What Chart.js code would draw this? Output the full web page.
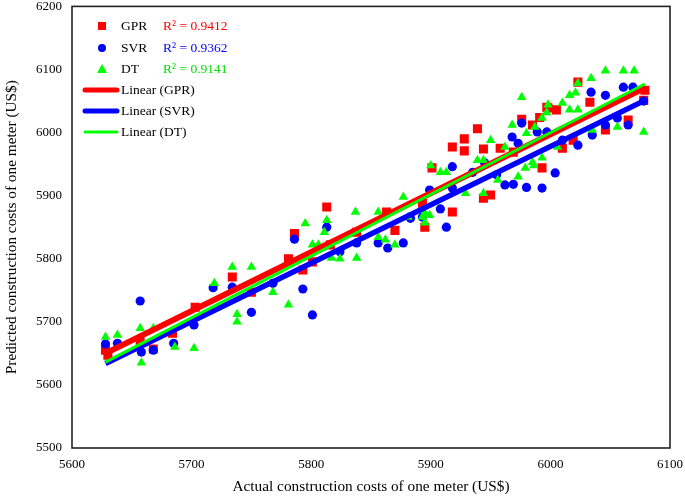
<!DOCTYPE html>
<html lang="en">
<head>
  <meta charset="UTF-8">
  <title>Actual vs predicted construction costs</title>
  <script src="https://cdn.jsdelivr.net/npm/chart.js"></script>
  <style>
    body {
      margin: 0;
      background: #fff;
    }
    .wrap {
      width: 685px;
      height: 496px;
      position: relative;
    }
  </style>
</head>
<body>
  <div class="wrap">
    <canvas id="grafico"></canvas>
  </div>

  <script>
    // GPR (red squares)
    const gprX = [5628, 5630, 5657, 5668, 5684, 5703, 5734, 5750, 5781, 5786, 5793, 5801, 5813, 5816, 5838, 5863, 5870,
      5893, 5895, 5901, 5918, 5918, 5928, 5928, 5939, 5944, 5944, 5950, 5958, 5969, 5976, 5985, 5991, 5993, 5997, 5998,
      6005, 6010, 6019, 6023, 6033, 6046, 6065, 6078, 6079];
    const gprY = [5655, 5647, 5668, 5657, 5682, 5723, 5771, 5747, 5800, 5840, 5782, 5795, 5882, 5822, 5842, 5874, 5845,
      5888, 5850, 5944, 5977, 5874, 5990, 5971, 6006, 5974, 5896, 5901, 5975, 5969, 6021, 6012, 6024, 5944, 6040, 6039,
      6036, 5975, 5988, 6080, 6048, 6004, 6020, 6051, 6067];

    // SVR (blue circles)
    const svrX = [5628, 5638, 5657, 5658, 5668, 5685, 5702, 5718, 5734, 5750, 5768, 5786, 5793, 5801, 5813, 5824, 5838,
      5856, 5864, 5877, 5883, 5893, 5899, 5908, 5913, 5918, 5918, 5935, 5945, 5955, 5962, 5969, 5973, 5976, 5980, 5968,
      5989, 5993, 5997, 6004, 6010, 6023, 6034, 6035, 6046, 6046, 6056, 6061, 6065, 6069, 6078];
    const svrY = [5665, 5666, 5733, 5652, 5655, 5666, 5695, 5754, 5755, 5715, 5761, 5831, 5752, 5711, 5850, 5811, 5825,
      5825, 5817, 5825, 5864, 5866, 5909, 5879, 5850, 5946, 5912, 5937, 5952, 5933, 5917, 5918, 5983, 6015, 5913, 5993,
      6001, 5912, 6001, 5936, 5988, 5980, 6064, 5996, 6059, 6012, 6023, 6072, 6012, 6072, 6050];

    // DT (green triangles)
    const dtX = [5628, 5638, 5657, 5658, 5668, 5686, 5702, 5719, 5734, 5738, 5738, 5750, 5768, 5781, 5795, 5801, 5806,
      5811, 5813, 5817, 5824, 5837, 5838, 5856, 5856, 5862, 5870, 5877, 5881, 5893, 5895, 5895, 5899, 5900, 5908, 5913,
      5929, 5939, 5944, 5944, 5950, 5956, 5962, 5968, 5973, 5976, 5979, 5980, 5985, 5986, 5987, 5993, 5993, 5997, 5998,
      6006, 6010, 6016, 6016, 6021, 6023, 6023, 6034, 6035, 6046, 6056, 6061, 6070, 6078];
    const dtY = [5676, 5679, 5690, 5635, 5690, 5660, 5658, 5761, 5787, 5712, 5700, 5787, 5747, 5727, 5856, 5822, 5822,
      5842, 5861, 5801, 5800, 5874, 5801, 5874, 5834, 5830, 5822, 5898, 5866, 5866, 5872, 5857, 5869, 5948, 5937, 5937,
      5904, 5956, 5956, 5904, 5988, 5925, 5977, 6012, 5930, 6056, 5944, 5999, 5953, 5948, 6009, 6023, 5960, 6032, 6044,
      5977, 6047, 6059, 6036, 6063, 6078, 6036, 6086, 6004, 6098, 6009, 6098, 6098, 6001];

    // linear trend lines, end points
    const lineX = [5628, 6079];
    const gprLineY = [5650, 6071];
    const svrLineY = [5634, 6051];
    const dtLineY = [5636, 6077];

    const xTicks = [5600, 5700, 5800, 5900, 6000, 6100];
    const yTicks = [5500, 5600, 5700, 5800, 5900, 6000, 6100, 6200];

    const legendItems = [
      { kind: 'rect', color: '#ff0000', label: 'GPR', r2: 'R² = 0.9412' },
      { kind: 'circle', color: '#0000ff', label: 'SVR', r2: 'R² = 0.9362' },
      { kind: 'triangle', color: '#00ff00', label: 'DT', r2: 'R² = 0.9141' },
      { kind: 'line', color: '#ff0000', width: 5, label: 'Linear (GPR)' },
      { kind: 'line', color: '#0000ff', width: 5, label: 'Linear (SVR)' },
      { kind: 'line', color: '#00ff00', width: 3, label: 'Linear (DT)' }
    ];

    function puntos(xs, ys) {
      return xs.map((x, i) => ({ x: x, y: ys[i] }));
    }

    const serif = 'Liberation Serif';

    // frame around the plot + legend in upper left corner
    const marcoYLeyenda = {
      id: 'marcoYLeyenda',
      afterDraw(chart) {
        const ctx = chart.ctx;
        const a = chart.chartArea;
        ctx.save();
        ctx.strokeStyle = '#222';
        ctx.lineWidth = 1.6;
        ctx.strokeRect(a.left, a.top, a.right - a.left, a.bottom - a.top);

        ctx.font = '13.5px "' + serif + '"';
        ctx.textBaseline = 'middle';
        const rowsY = [26, 48, 69, 90, 111, 132];
        legendItems.forEach((it, i) => {
          const y = rowsY[i];
          ctx.fillStyle = it.color;
          ctx.strokeStyle = it.color;
          if (it.kind === 'rect') {
            ctx.fillRect(98, y - 4, 8, 8);
          } else if (it.kind === 'circle') {
            ctx.beginPath();
            ctx.arc(102, y, 4, 0, Math.PI * 2);
            ctx.fill();
          } else if (it.kind === 'triangle') {
            ctx.beginPath();
            ctx.moveTo(102, y - 5);
            ctx.lineTo(107, y + 4);
            ctx.lineTo(97, y + 4);
            ctx.closePath();
            ctx.fill();
          } else {
            ctx.lineWidth = it.width;
            ctx.lineCap = 'round';
            ctx.beginPath();
            ctx.moveTo(85, y);
            ctx.lineTo(117, y);
            ctx.stroke();
          }
          ctx.fillStyle = '#000';
          ctx.textAlign = 'left';
          ctx.fillText(it.label, 121, y);
          if (it.r2) {
            ctx.fillStyle = it.color === '#00ff00' ? '#00dd00' : it.color;
            ctx.fillText(it.r2, 163, y);
          }
        });
        ctx.restore();
      }
    };

    new Chart(document.getElementById('grafico'), {
      type: 'scatter',
      data: {
        datasets: [
          { type: 'line', label: 'Linear (DT)', data: puntos(lineX, dtLineY), borderColor: '#00ff00', borderWidth: 3, pointRadius: 0 },
          { type: 'line', label: 'Linear (SVR)', data: puntos(lineX, svrLineY), borderColor: '#0000ff', borderWidth: 5.5, pointRadius: 0 },
          { type: 'line', label: 'Linear (GPR)', data: puntos(lineX, gprLineY), borderColor: '#ff0000', borderWidth: 6, pointRadius: 0 },
          { label: 'DT', data: puntos(dtX, dtY), pointStyle: 'triangle', pointRadius: 5.5, backgroundColor: '#00ff00', borderColor: '#00ff00', borderWidth: 0 },
          { label: 'SVR', data: puntos(svrX, svrY), pointStyle: 'circle', pointRadius: 4.6, backgroundColor: '#0000ff', borderColor: '#0000ff', borderWidth: 0 },
          { label: 'GPR', data: puntos(gprX, gprY), pointStyle: 'rect', pointRadius: 6.4, backgroundColor: '#ff0000', borderColor: '#ff0000', borderWidth: 0 }
        ]
      },
      options: {
        responsive: true,
        maintainAspectRatio: false,
        animation: false,
        layout: { padding: { left: 0, top: 6, right: 15, bottom: 0 } },
        plugins: {
          legend: { display: false },
          tooltip: { enabled: false }
        },
        scales: {
          x: {
            min: 5600,
            max: 6100,
            afterBuildTicks: s => { s.ticks = xTicks.map(v => ({ value: v })); },
            afterFit: s => { s.height = 48; s.paddingLeft = 0; s.paddingRight = 0; },
            grid: { display: false, drawTicks: false },
            border: { display: false },
            ticks: { padding: 9, color: '#000', font: { family: serif, size: 13 }, maxRotation: 0, callback: v => String(v) },
            title: {
              display: true,
              text: 'Actual construction costs of one meter (US$)',
              color: '#000',
              font: { family: serif, size: 15.3 },
              padding: { top: 0, bottom: 0 }
            }
          },
          y: {
            min: 5500,
            max: 6200,
            afterBuildTicks: s => { s.ticks = yTicks.map(v => ({ value: v })); },
            afterFit: s => { s.width = 72; s.paddingTop = 0; s.paddingBottom = 0; },
            grid: { display: false, drawTicks: false },
            border: { display: false },
            ticks: { padding: 10, color: '#000', font: { family: serif, size: 13 }, callback: v => String(v) },
            title: {
              display: true,
              text: 'Predicted construction costs of one meter (US$)',
              color: '#000',
              font: { family: serif, size: 15.3 },
              padding: { top: 3, bottom: 0 }
            }
          }
        }
      },
      plugins: [marcoYLeyenda]
    });
  </script>
</body>
</html>
